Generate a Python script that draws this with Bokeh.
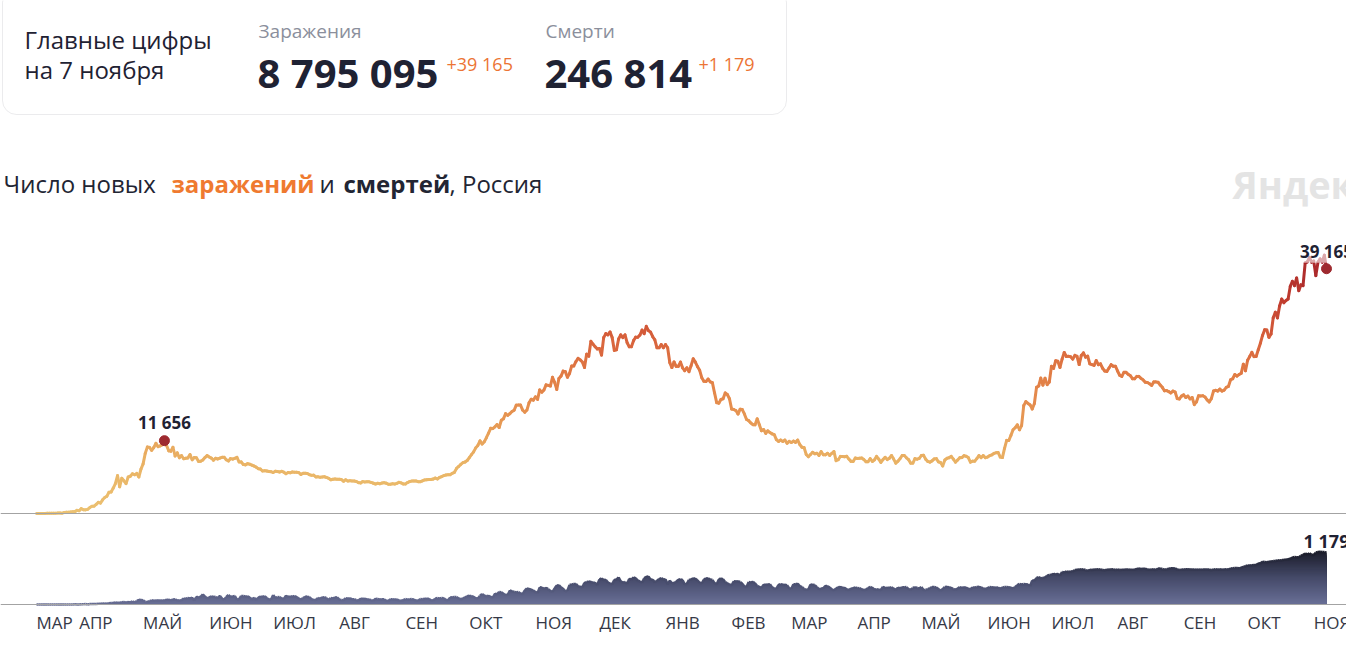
import numpy as np
import pandas as pd
from bokeh.plotting import figure
from bokeh.models import Range1d, Label, BoxAnnotation, Span, ColumnDataSource
from bokeh.core.properties import value
from bokeh.embed import file_html
from bokeh.resources import INLINE

# ---------------- data ----------------
start_date = "2020-03-12"

# daily new infections, 12 Mar 2020 .. 31 Dec 2020
inf_2020 = [
    6, 11, 14, 4, 4, 30, 33, 52, 54, 53, 61, 71, 57, 163, 182, 196, 228, 270, 302, 500,
    440, 771, 601, 582, 658, 954, 1154, 1175, 1459, 1786, 1667, 2186, 2558, 2774, 3388,
    3448, 4070, 4785, 6060, 4268, 5642, 5236, 4774, 5849, 5966, 6361, 6198, 6411, 5841, 7099,
    7933, 9623, 10633, 10581, 10102, 10559, 11231, 10699, 10817, 11012, 11656, 10899, 10028,
    9974, 10598, 9200, 9709, 8926, 9263, 8764, 8849, 8894, 9434, 8599, 8946, 8915, 8338,
    8371, 8572, 8952, 9268,
    9035, 8863, 8536, 8831, 8726, 8855, 8984, 8985, 8595, 8404, 8779, 8706, 8835, 8987, 8246,
    8248, 7843, 7790, 7972, 7889, 7728, 7600, 7425, 7176, 7113, 6800, 6852, 6791, 6719, 6693,
    6556, 6760, 6718, 6632, 6736, 6611, 6368, 6562, 6509, 6635, 6615, 6611, 6537, 6248, 6422,
    6428, 6406, 6214, 6109, 6139, 5842, 5862, 5811, 5848, 5871, 5765, 5635, 5395, 5475, 5509, 5482,
    5462, 5427, 5159, 5394, 5204, 5241, 5212, 5189, 5118, 4945, 4892, 5102, 5057, 5065, 5061,
    4969, 4839, 4718, 4828, 4767, 4870, 4921, 4852, 4676, 4696, 4744, 4711, 4829, 4980, 4897, 4729,
    4729, 4952, 5110, 5185, 5205, 5195, 5099, 5099, 5218, 5363, 5406, 5449, 5449, 5509, 5670,
    5529, 5762, 5905, 6065, 6148, 6196, 6215, 6431, 6595, 7212, 7523, 7867, 8135, 8232, 8481,
    8945, 9412, 9859, 10499, 10888, 11615, 11115, 11493, 12126, 12846, 13634, 13592, 13868,
    14231, 13754, 14922, 15150, 15982, 15700, 15982, 16319, 16521, 17340, 17347, 17347, 16550,
    16202, 16550, 17717, 18283, 18140,
    18665, 18257, 19768, 19404, 19768, 20582, 20498, 20396, 21798, 20977, 19851, 21608, 21983,
    22778, 22702, 21798, 22410, 23610, 23610, 24318, 24822, 24581, 24236, 23351, 25487, 25173,
    27543, 27100, 26683, 26338,
    26402, 25345, 28145, 28782, 28585, 29039, 28137, 26097, 26190, 27927, 28585, 28137, 28585,
    27328, 26689, 26689, 27656, 28214, 28209, 28552, 29350, 28776, 29935, 29258, 29018, 28284,
    27787, 26513, 26513, 27039, 26513,
]

# daily new infections, 1 Jan 2021 .. 7 Nov 2021
inf_2021 = [
    27039, 26513, 24150, 23351, 24246, 23541, 23541, 24217, 23309, 22851, 23315, 22700, 23652,
    24763, 24217, 23510, 22934, 21734, 21152, 21127, 21513, 21062, 20921, 19290, 17741, 17648,
    18241, 18359, 19290, 19032, 18359,
    16714, 16643, 16474, 15916, 16688, 16627, 15930, 15038, 14861, 14494, 14207, 14185, 15150,
    14185, 13233, 13433, 12828, 13233, 12953, 12742, 12604, 11823, 11534, 11749, 11534, 11753,
    11241, 11534,
    11359, 11571, 11385, 11758, 11024, 10595, 10535, 9437, 9079, 9445, 9803, 9557, 9632, 9299,
    9908, 9393, 9393, 9632, 9299, 9632, 9908, 8457, 8604, 9128, 9115, 9073, 9149, 8711, 8341,
    8328, 8885,
    8792, 8824, 8885, 8646, 8294, 8277, 8780, 8328, 8576, 9135, 8702, 8173, 8632, 9002, 8632,
    8847, 9283, 8702, 8053, 8367, 8779, 9284, 9270, 8916, 8622, 8053, 8063, 8780, 8697, 8817,
    9270, 9328, 8697, 8329, 8217, 8419, 8731, 8780, 8270, 8163, 7597, 8555, 8832, 8926, 9145,
    8702, 8217, 8554, 8926, 8947, 9252, 9164, 8951, 8217, 8373, 8373, 8787, 9270, 8946, 9268, 8933,
    9022, 9252, 9371, 9614, 9704, 9746, 9039, 8951, 10407, 11699, 11687, 12505, 13397, 13721,
    14185, 13397, 14057, 17262, 17906, 17611, 17378, 16715, 17594, 20182, 20393, 21665, 20538,
    21650, 20616, 21042,
    23543, 23218, 24439, 24353, 23378, 24702, 25766, 25116, 25142, 25082, 24702, 25293, 25140,
    23827, 25293, 25704, 25018, 25173, 23947, 23811, 23704, 24471, 23811, 23947, 23239, 22804,
    22732, 23270, 23811, 23564, 23564,
    22804, 22120, 21932, 22589, 22589, 22277, 22050, 21571, 21571, 21932, 21932, 21624, 21378,
    21000, 20958, 20765, 20492, 21058, 21058, 20992, 20564, 20185, 19630, 19665, 19509, 19286,
    19594, 19441, 18380, 18325, 18780,
    18985, 18554, 18780, 18341, 18554, 17425, 17856, 18841, 18815, 18841, 18645, 18172, 17837,
    18380, 19594, 19706, 19594, 19905, 19594, 19744, 20174, 20329, 21379, 21559, 22236, 21986,
    22236, 22430, 23888, 22830,
    24522, 25133, 25781, 25110, 25133, 26200, 27246, 28486, 29409, 29362, 28190, 28717, 31299,
    32196, 31299, 33208, 34303, 33740, 34073, 34325, 36339, 37141, 36454, 37678, 35660, 36582,
    36446, 40096, 40251, 40993, 40217,
    40402, 38058, 40217, 40735, 40217, 41335, 39165,
]

# daily deaths, 12 Mar 2020 .. 31 Dec 2020
deaths_2020 = [
    0, 0, 0, 0, 0, 0, 1, 0, 0, 0, 0, 1, 0, 1, 2, 1, 1, 2, 5, 2,
    2, 7, 4, 9, 2, 11, 13, 11, 13, 18, 18, 22, 24, 18, 28, 36, 36, 48, 41, 42, 51, 57, 42, 60,
    47, 72, 47, 78, 108, 101,
    96, 57, 58, 76, 95, 86, 88, 98, 88, 88, 94, 107, 107, 93, 113, 119, 94, 91, 96, 135, 127,
    150, 139, 153, 92, 174, 161, 174, 232, 181, 138,
    162, 182, 178, 169, 144, 197, 134, 112, 171, 216, 174, 181, 194, 113, 119, 194, 193, 182,
    181, 161, 109, 153, 105, 154, 176, 176, 188, 147, 114, 113,
    216, 147, 168, 168, 135, 124, 198, 173, 174, 188, 188, 174, 130, 115, 147, 175, 179, 165,
    119, 105, 100, 150, 129, 161, 165, 144, 105, 147, 135, 161, 161,
    115, 100, 97, 144, 129, 144, 119, 119, 97, 90, 130, 129, 129, 113, 114, 98, 88, 130, 123,
    114, 121, 119, 86, 80, 122, 117, 106, 119, 87, 84, 98,
    123, 110, 119, 122, 112, 88, 86, 122, 119, 130, 132, 129, 98, 91, 131, 146, 137, 150, 144,
    103, 95, 160, 165, 169, 170, 136, 119, 137, 160, 186,
    201, 186, 174, 142, 137, 198, 239, 202, 186, 197, 171, 154, 244, 232, 286, 279, 244, 215,
    219, 317, 304, 286, 278, 283, 249, 237, 320, 366, 355, 334, 320,
    283, 262, 389, 385, 355, 378, 349, 306, 286, 368, 432, 439, 387, 358, 301, 314, 442, 456,
    463, 467, 411, 401, 391, 491, 507, 524, 510, 496, 491, 442,
    569, 589, 554, 560, 496, 479, 456, 561, 562, 613, 524, 496, 509, 468, 585, 562, 613, 599,
    539, 530, 492, 593, 630, 635, 561, 567, 501, 541, 577, 599, 570,
]

# daily deaths, 1 Jan 2021 .. 7 Nov 2021
deaths_2021 = [
    570, 459, 543, 482, 485, 515, 562, 571, 555, 456, 469, 557, 570, 593, 586, 551, 494, 480,
    564, 594, 590, 569, 554, 485, 458, 568, 594, 570, 511, 479, 458,
    436, 527, 520, 526, 511, 469, 412, 396, 511, 497, 518, 479, 421, 400, 377, 450, 446, 451,
    458, 389, 366, 354, 449, 459, 446, 446, 439, 371,
    355, 459, 459, 474, 413, 400, 351, 331, 342, 454, 450, 442, 392, 347, 361, 368, 427, 412,
    389, 344, 322, 366, 390, 400, 375, 381, 341, 330, 360, 372, 388,
    371, 371, 346, 327, 336, 374, 397, 377, 342, 347, 334, 328, 403, 371, 378, 377, 392, 359,
    332, 381, 370, 389, 392, 395, 347, 335, 374, 396, 374, 365,
    397, 330, 331, 349, 372, 395, 396, 387, 351, 312, 349, 397, 400, 390, 377, 348, 338, 362,
    395, 376, 390, 381, 355, 346, 385, 383, 399, 400, 386, 367, 351,
    373, 396, 394, 388, 381, 386, 358, 383, 396, 399, 394, 380, 362, 399, 440, 466, 453, 466,
    460, 453, 419, 548, 540, 601, 619, 598, 599, 611, 652, 669,
    672, 697, 679, 697, 654, 737, 726, 752, 738, 749, 752, 780, 786, 791, 799, 796, 781, 764,
    788, 784, 794, 792, 799, 795, 784, 777, 790, 796, 792, 799, 781,
    792, 782, 789, 790, 792, 794, 788, 789, 790, 808, 815, 806, 808, 810, 796, 790, 794, 799,
    781, 817, 816, 806, 790, 801, 810, 820, 822, 819, 797, 785, 791,
    795, 797, 799, 792, 793, 795, 787, 792, 788, 796, 791, 792, 794, 777, 796, 801, 789, 799,
    789, 793, 798, 795, 815, 820, 828, 828, 820, 833, 852, 867,
    887, 882, 890, 895, 895, 929, 936, 968, 962, 957, 968, 973, 984, 986, 999, 1002, 1002,
    1015, 1015, 1028, 1036, 1064, 1075, 1069, 1072, 1106, 1123, 1159, 1131, 1163, 1130,
    1123, 1178, 1189, 1195, 1192, 1188, 1179,
]

month_labels = ["МАР", "АПР", "МАЙ", "ИЮН", "ИЮЛ", "АВГ", "СЕН", "ОКТ", "НОЯ", "ДЕК", "ЯНВ",
                "ФЕВ", "МАР", "АПР", "МАЙ", "ИЮН", "ИЮЛ", "АВГ", "СЕН", "ОКТ", "НОЯ"]

total_cases = 8795095
total_deaths = 246814
headline = ["Главные цифры", "на 7 ноября"]
title_parts = ["Число новых", "заражений", "и", "смертей", ", Россия"]

# ---------------- derived series ----------------
inf = np.array(inf_2020 + inf_2021, dtype=float)
dth = np.array(deaths_2020 + deaths_2021, dtype=float)
assert len(inf) == len(dth), (len(inf), len(dth))
dates = pd.date_range(start_date, periods=len(inf), freq="D")


def fmt(v):
    return f"{int(v):,}".replace(",", " ")


# ---------------- page geometry (pixels of the page) ----------------
W, H = 1346, 656
PAGE_L, PAGE_T = 0, 0
X_FIRST, X_LAST = 36, 1326          # x of first / last day
DAY = 86400000.0
T0 = dates[0].value / 1e6
K = (X_LAST - X_FIRST) / (len(inf) - 1)   # px per day
INF_BASE, INF_PX = 513, 0.00625          # baseline y, px per case
DTH_BASE, DTH_PX = 604, 0.0441           # baseline y, px per death
BASE_FIX = 0.375                         # rendered baseline correction (x font size)


def sx(X):
    return T0 + (X - X_FIRST) / K * DAY


def sy(Y):
    return (INF_BASE - Y) / INF_PX


def dy(Y):
    return (DTH_BASE - Y) / DTH_PX


FONT = "Open Sans"
DARK = "#1f2233"
ORANGE = "#ef7a30"

p = figure(width=W, height=H, output_backend="svg", toolbar_location=None,
           x_range=Range1d(sx(PAGE_L), sx(PAGE_L + W)),
           y_range=Range1d(sy(PAGE_T + H), sy(PAGE_T)),
           x_axis_type=None, y_axis_type=None, min_border=0)
p.extra_y_ranges = {"deaths": Range1d(dy(PAGE_T + H), dy(PAGE_T))}
p.outline_line_color = None
p.background_fill_color = "white"
p.border_fill_color = "white"

# ---------------- deaths area (vertical gradient from stacked layers) ----------------
d_stop_v = [0, 600, 1200]
d_stop_c = np.array([[106, 112, 151], [70, 75, 106], [28, 30, 44]], dtype=float)


def d_color(v):
    r, g, b = (np.interp(v, d_stop_v, d_stop_c[:, i]) for i in range(3))
    return "#%02x%02x%02x" % (int(r), int(g), int(b))


step = 25
top = int(np.ceil(dth.max() / step) * step)
for hi in range(top, 0, -step):
    p.varea(x=dates, y1=0, y2=np.minimum(dth, hi), fill_color=d_color(hi - step / 2),
            y_range_name="deaths")

# thin outline along the top of the area
dseg = ColumnDataSource(dict(
    x0=dates[:-1], x1=dates[1:], y0=dth[:-1], y1=dth[1:],
    c=[d_color((a + b) / 2 + 40) for a, b in zip(dth[:-1], dth[1:])]))
p.segment(x0="x0", y0="y0", x1="x1", y1="y1", line_color="c", line_width=2.5,
          source=dseg, y_range_name="deaths")

# baselines
p.add_layout(Span(location=0, dimension="width", line_color="#a3a3a3", line_width=1))
p.add_layout(Span(location=0, dimension="width", line_color="#a3a3a3", line_width=1,
                  y_range_name="deaths"))

# ---------------- infections line, coloured by value ----------------
stop_v = [0, 8000, 15000, 22000, 28000, 34000, 41000]
stop_c = np.array([[236, 194, 114], [234, 180, 102], [231, 152, 84], [226, 126, 70],
                   [216, 98, 60], [194, 62, 48], [165, 36, 42]], dtype=float)


def i_color(v):
    r, g, b = (np.interp(v, stop_v, stop_c[:, i]) for i in range(3))
    return "#%02x%02x%02x" % (int(r), int(g), int(b))


seg = ColumnDataSource(dict(
    x0=dates[:-1], x1=dates[1:], y0=inf[:-1], y1=inf[1:],
    c=[i_color((a + b) / 2) for a, b in zip(inf[:-1], inf[1:])]))
p.segment(x0="x0", y0="y0", x1="x1", y1="y1", line_color="c", line_width=3,
          line_cap="round", source=seg)

i_peak = int(np.argmax(inf[:120]))
p.scatter(x=[dates[i_peak], dates[-1]], y=[inf[i_peak], inf[-1]], size=10,
          color="#9e2a2f", line_color="#9e2a2f")


def vlabel(xv, yv, size, off, rng="default", **kw):
    p.add_layout(Label(x=xv, y=yv, text=fmt(yv), text_align="center",
                       text_baseline="alphabetic", y_offset=off + BASE_FIX * size,
                       y_range_name=rng, text_font=FONT, text_font_style="bold",
                       text_font_size=f"{size}px", text_color=DARK, **kw))


vlabel(dates[i_peak].value / 1e6, inf[i_peak], 17, 12)
vlabel(dates[-1].value / 1e6, inf[-1], 17, 11, background_fill_color="white",
       background_fill_alpha=0.6)
vlabel(dates[-1].value / 1e6, dth[-1], 18, 5, rng="deaths")

# ---------------- month labels ----------------
month_x = [dates[0]] + list(pd.date_range("2020-04-01", periods=len(month_labels) - 1,
                                          freq="MS"))
msrc = ColumnDataSource(dict(x=month_x, y=[dy(628 - BASE_FIX * 17)] * len(month_labels),
                             t=month_labels))
p.text(x="x", y="y", text="t", source=msrc, y_range_name="deaths",
       text_font=value(FONT), text_font_size="17px", text_color="#353846",
       text_align="left", text_baseline="alphabetic")

# ---------------- header box ----------------
p.add_layout(BoxAnnotation(left=sx(2), right=sx(786), top=sy(-12), bottom=sy(114),
                           fill_alpha=0, line_color="#bcbdc4", line_width=1,
                           border_radius=14))


def txt(s, X, Y, size, color=DARK, style="normal"):
    p.add_layout(Label(x=sx(X), y=sy(Y - BASE_FIX * size), text=s, text_align="left",
                       text_baseline="alphabetic", text_font=FONT,
                       text_font_size=f"{size}px", text_font_style=style,
                       text_color=color))


txt(headline[0], 24, 48, 24)
txt(headline[1], 24, 78, 24)
txt("Заражения", 258, 38, 19, "#8b8f9c")
txt(fmt(total_cases), 257, 87, 40, DARK, "bold")
txt("+" + fmt(inf[-1]), 446, 70, 18, "#ec7434")
txt("Смерти", 545, 38, 19, "#8b8f9c")
txt(fmt(total_deaths), 544, 87, 40, DARK, "bold")
txt("+" + fmt(dth[-1]), 698, 70, 18, "#ec7434")

# ---------------- title ----------------
txt(title_parts[0], 3, 192, 24, "#222533")
txt(title_parts[1], 171, 192, 24, ORANGE, "bold")
txt(title_parts[2], 319, 192, 24, "#222533")
txt(title_parts[3], 343, 192, 24, "#222533", "bold")
txt(title_parts[4], 449, 192, 24, "#222533")
txt("Яндекс", 1232, 198, 38, "#e4e4e4", "bold")

open("out.html", "w").write(file_html(p, INLINE))
